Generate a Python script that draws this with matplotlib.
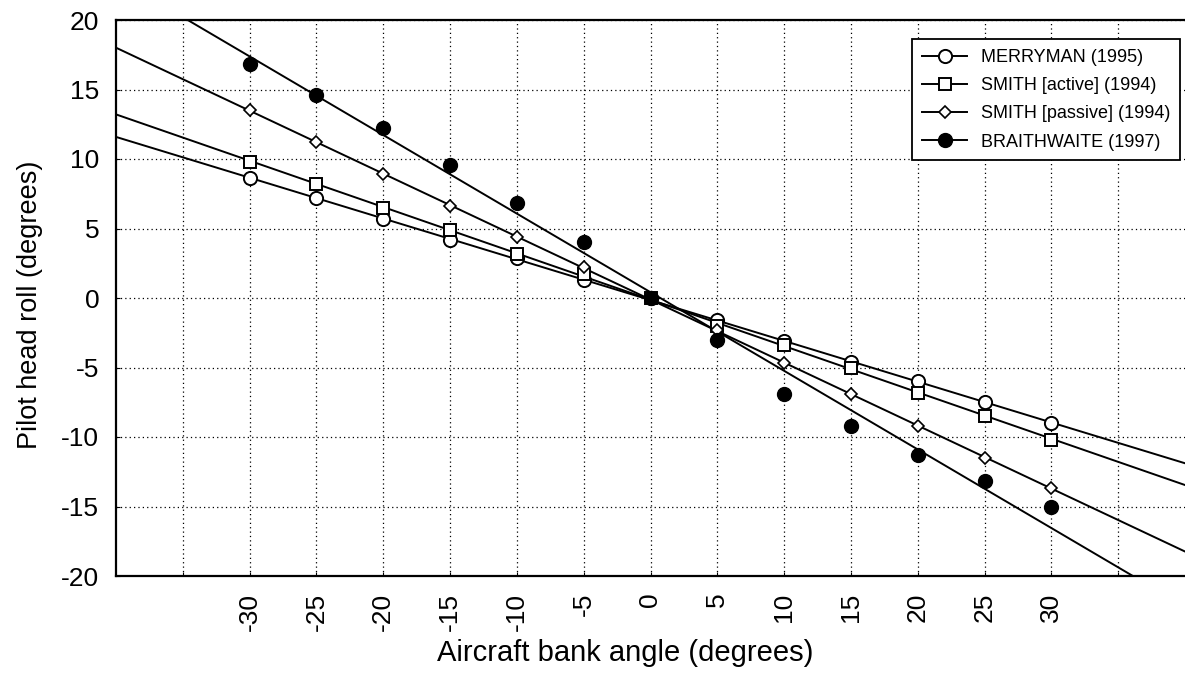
import numpy as np
import matplotlib
matplotlib.use("Agg")
import matplotlib.pyplot as plt

plt.rcParams['font.family'] = ['Liberation Sans', 'DejaVu Sans']

bank_angle = [-30, -25, -20, -15, -10, -5, 0, 5, 10, 15, 20, 25, 30]
merryman = [8.6, 7.2, 5.7, 4.15, 2.9, 1.3, 0.0, -1.6, -3.1, -4.6, -6.0, -7.5, -9.0]
smith_active = [9.8, 8.2, 6.5, 4.9, 3.2, 1.7, 0.0, -2.0, -3.4, -5.0, -6.8, -8.5, -10.2]
smith_passive = [13.5, 11.2, 8.9, 6.6, 4.4, 2.2, 0.0, -2.3, -4.7, -6.9, -9.2, -11.5, -13.7]
braithwaite = [16.8, 14.6, 12.2, 9.6, 6.8, 4.0, 0.0, -3.0, -6.9, -9.2, -11.3, -13.2, -15.0]

series_labels = ["MERRYMAN (1995)", "SMITH [active] (1994)",
                 "SMITH [passive] (1994)", "BRAITHWAITE (1997)"]
y_ticks = [20, 15, 10, 5, 0, -5, -10, -15, -20]

fig = plt.figure(figsize=(11.85, 6.77), dpi=100)
ax = fig.add_axes([116/1185, 1-576/677, 1-116/1185, (576-20)/677])

x = np.array(bank_angle, dtype=float)
xfit = np.array([-40.0, 40.0])
styles = [
    dict(marker='o', markersize=9.5, markerfacecolor='white', markeredgewidth=1.4),
    dict(marker='s', markersize=9, markerfacecolor='white', markeredgewidth=1.4),
    dict(marker='D', markersize=6.3, markerfacecolor='white', markeredgewidth=1.2),
    dict(marker='o', markersize=10, markerfacecolor='black', markeredgewidth=1.0),
]
handles = []
for yvals, lab, st in zip([merryman, smith_active, smith_passive, braithwaite],
                          series_labels, styles):
    yv = np.array(yvals)
    b, a = np.polyfit(x, yv, 1)
    ax.plot(xfit, b * xfit + a, color='black', lw=1.4, zorder=3)
    ax.plot(x, yv, linestyle='none', color='black', markeredgecolor='black',
            zorder=4, **st)
    h, = ax.plot([], [], color='black', lw=1.4, markeredgecolor='black', **st)
    h.set_label(lab)
    handles.append(h)

ax.set_xlim(-40, 40)
ax.set_ylim(-20, 20)
ax.set_xticks([-35, -30, -25, -20, -15, -10, -5, 0, 5, 10, 15, 20, 25, 30, 35])
ax.set_xticklabels(['', '-30', '-25', '-20', '-15', '-10', '-5', '0', '5', '10',
                    '15', '20', '25', '30', ''], rotation=90, fontsize=19)
ax.set_yticks(y_ticks)
ax.set_yticklabels([str(v) for v in y_ticks], fontsize=19)
ax.tick_params(axis='x', direction='in', length=3, width=0.8, pad=12)
ax.tick_params(axis='y', direction='in', length=3, width=0.8, pad=12)
ax.grid(True, color='black', linestyle=(0, (1, 2.5)), linewidth=0.9)
ax.set_axisbelow(True)

for s in ['left', 'bottom', 'top']:
    ax.spines[s].set_linewidth(1.6)
ax.spines['right'].set_visible(False)

ax.set_xlabel("Aircraft bank angle (degrees)", fontsize=21, labelpad=3)
ax.xaxis.set_label_coords((625 - 116) / 1069, -0.114)
ax.set_ylabel("Pilot head roll (degrees)", fontsize=19.5, labelpad=12)
ax.yaxis.set_label_coords(-0.068, (576 - 305) / 556)

leg = ax.legend(handles=handles, loc='upper right',
                bbox_to_anchor=(1180/1185, 1-39/677), bbox_transform=fig.transFigure,
                fontsize=13, frameon=True, fancybox=False, handlelength=2.5,
                borderpad=0.55, labelspacing=0.62, handletextpad=0.75,
                borderaxespad=0)
leg.get_frame().set_edgecolor('black')
leg.get_frame().set_linewidth(1.3)
leg.get_frame().set_alpha(1)

fig.savefig("out.png", dpi=100)
